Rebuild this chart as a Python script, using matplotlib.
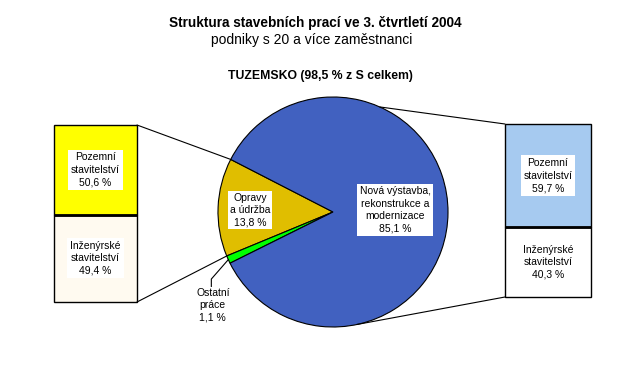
import numpy as np
import matplotlib
matplotlib.use("Agg")
import matplotlib.pyplot as plt
from matplotlib.patches import ConnectionPatch

plt.rcParams['font.family'] = ['Liberation Sans', 'DejaVu Sans']

# pie: domestic construction work by type
pie_labels = ["Opravy\na údržba\n13,8 %", "Ostatní\npráce\n1,1 %",
              "Nová výstavba,\nrekonstrukce a\nmodernizace\n85,1 %"]
pie_values = [13.8, 1.1, 85.1]
pie_colors = ["#E0BE00", "#00FF00", "#4161C0"]

# split of repairs (left) and new construction (right)
left_values = [49.4, 50.6]
left_labels = ["Inženýrské\nstavitelství\n49,4 %", "Pozemní\nstavitelství\n50,6 %"]
left_colors = ["#FFFAF0", "#FFFF00"]
right_values = [40.3, 59.7]
right_labels = ["Inženýrské\nstavitelství\n40,3 %", "Pozemní\nstavitelství\n59,7 %"]
right_colors = ["#FFFFFF", "#A6CAF0"]

W, H = 627, 390
fig = plt.figure(figsize=(W / 100, H / 100), dpi=100)

fig.text(315 / W, 1 - 23 / H, "Struktura stavebních prací ve 3. čtvrtletí 2004",
         ha="center", va="center", fontsize=9.8, fontweight="bold")
fig.text(312 / W, 1 - 40 / H, "podniky s 20 a více zaměstnanci",
         ha="center", va="center", fontsize=10)
fig.text(320 / W, 1 - 76 / H, "TUZEMSKO (98,5 % z S celkem)",
         ha="center", va="center", fontsize=8.8, fontweight="bold")

# pie
cx, cy, r = 333, 178, 115
ax = fig.add_axes([(cx - r) / W, (cy - r) / H, 2 * r / W, 2 * r / H])
start = 152.8
wedges, _ = ax.pie(pie_values, colors=pie_colors, startangle=start, counterclock=True,
                   radius=1, wedgeprops=dict(edgecolor="black", linewidth=0.8))
ax.set_xlim(-1, 1)
ax.set_ylim(-1, 1)

bbox = dict(facecolor="white", edgecolor="none", pad=1.5)
fig.text(250 / W, 1 - 210 / H, pie_labels[0], ha="center", va="center",
         fontsize=7.5, linespacing=1.3, bbox=bbox)
fig.text(395 / W, 1 - 210 / H, pie_labels[2], ha="center", va="center",
         fontsize=7.5, linespacing=1.3, bbox=bbox)

# leader line to the small slice
ang = np.deg2rad(start + 360 * (pie_values[0] + pie_values[1] / 2) / 100)
px, py = np.cos(ang), np.sin(ang)
ax.plot([px, -1.058, -1.058], [py, -0.583, -0.647], color="black", lw=0.8, clip_on=False)
ax.text(-1.045, -0.66, pie_labels[1], ha="center", va="top", fontsize=7.5,
        linespacing=1.3, clip_on=False)


def stacked(rect, values, colors, labels):
    a = fig.add_axes(rect)
    bottom = 0
    for v, c, lab in zip(values, colors, labels):
        bars = a.bar(0, v, bottom=bottom, width=1, color=c, edgecolor="black", linewidth=1)
        for b in bars:
            b.set_clip_on(False)
        a.text(0, bottom + v / 2, lab, ha="center", va="center", fontsize=7.5,
               linespacing=1.3, bbox=dict(facecolor="white", edgecolor="none", pad=2))
        bottom += v
    a.axhline(values[0], color="black", lw=2)
    a.set_xlim(-0.5, 0.5)
    a.set_ylim(0, sum(values))
    a.axis("off")
    return a

axl = stacked([54 / W, (H - 302) / H, 83 / W, 177 / H], left_values, left_colors, left_labels)
axr = stacked([505 / W, (H - 297) / H, 86 / W, 173 / H], right_values, right_colors, right_labels)

# connecting lines
a1 = np.deg2rad(start)
a2 = np.deg2rad(start + 360 * pie_values[0] / 100)
for ang_, yb in [(a1, 100), (a2, 0)]:
    fig.add_artist(ConnectionPatch(xyA=(np.cos(ang_), np.sin(ang_)), coordsA=ax.transData,
                                   xyB=(0.5, yb), coordsB=axl.transData,
                                   color="black", lw=0.8))
for ang_, yb in [(np.deg2rad(66), 100), (np.deg2rad(-78), 0)]:
    fig.add_artist(ConnectionPatch(xyA=(np.cos(ang_), np.sin(ang_)), coordsA=ax.transData,
                                   xyB=(-0.5, yb), coordsB=axr.transData,
                                   color="black", lw=0.8))

fig.savefig("out.png", dpi=100, facecolor="white")
